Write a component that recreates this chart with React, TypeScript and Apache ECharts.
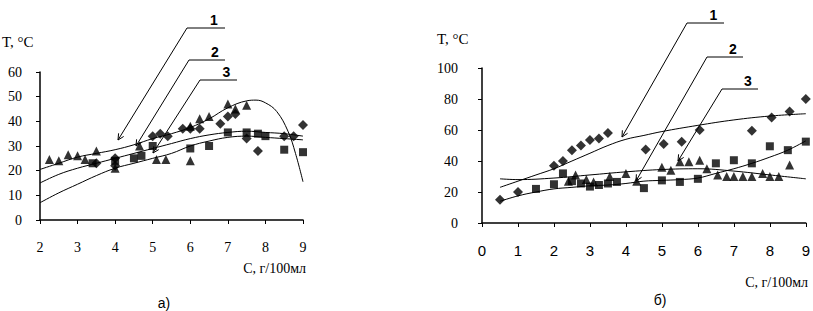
import React, { useEffect, useRef } from "react";
import * as echarts from "echarts";

// ---------- chart а) ----------
const leftXTicks = { min: 2, max: 9, interval: 1 };
const leftYTicks = { min: 0, max: 60, interval: 10 };

const leftDiamonds: number[][] = [
  [3.5, 23], [4.0, 22], [4.0, 25], [5.0, 34], [5.2, 35], [5.4, 34], [5.8, 37], [6.0, 37],
  [6.25, 37], [6.8, 39], [7.0, 42], [7.2, 43], [7.5, 33], [7.8, 28], [8.5, 34], [8.75, 34], [9.0, 38.5],
];
const leftSquares: number[][] = [
  [3.4, 23], [4.0, 24], [4.5, 25], [4.7, 26], [5.0, 30], [6.0, 29], [6.5, 30], [7.0, 35.5],
  [7.5, 35.5], [7.8, 35], [8.0, 34], [8.5, 28.5], [9.0, 27.5],
];
const leftTriangles: number[][] = [
  [2.25, 24.5], [2.5, 24], [2.75, 26.5], [3.0, 26], [3.2, 24.5], [3.5, 28], [4.0, 21], [4.65, 30],
  [5.1, 24.5], [5.35, 24.5], [6.0, 24], [6.0, 38], [6.25, 41], [6.5, 42], [7.0, 47], [7.2, 45], [7.5, 46.5],
];
const leftCurve1: number[][] = [
  [2, 20.5], [2.5, 23], [3, 25.5], [3.5, 27], [4, 28.5], [4.5, 30.5], [5, 33], [5.5, 35], [6, 37.5],
  [6.5, 41], [7, 45.5], [7.5, 48.3], [7.75, 48.6], [8, 47.5], [8.3, 44], [8.6, 36], [8.8, 27], [9, 15.5],
];
const leftCurve2: number[][] = [
  [2, 15], [2.5, 18.5], [3, 21], [3.5, 23], [4, 25], [4.5, 27], [5, 29], [5.5, 31], [6, 33],
  [6.5, 34.5], [7, 35.5], [7.5, 36], [8, 35.5], [8.5, 35], [9, 34],
];
const leftCurve3: number[][] = [
  [2, 7], [2.5, 11], [3, 14.5], [3.5, 18], [4, 21], [4.5, 23], [5, 25], [5.5, 27], [6, 30],
  [6.5, 32], [7, 33.5], [7.5, 34], [8, 33.5], [8.5, 33], [9, 32.5],
];

// ---------- chart б) ----------
const rightXTicks = { min: 0, max: 9, interval: 1 };
const rightYTicks = { min: 0, max: 100, interval: 20 };

const rightDiamonds: number[][] = [
  [0.5, 15], [1, 20], [2, 37], [2.25, 40], [2.5, 47], [2.75, 50], [3, 53.5], [3.25, 54.5], [3.5, 58],
  [4.55, 47.5], [5.05, 51], [5.55, 52.5], [6.05, 60], [7.5, 59.5], [8.05, 68], [8.55, 72], [9.0, 80],
];
const rightSquares: number[][] = [
  [1.5, 22], [2, 25], [2.25, 32], [2.5, 27], [2.75, 25.5], [3, 23.5], [3.25, 24.5], [3.5, 25.5],
  [3.75, 26.5], [4.5, 22.5], [5, 27.5], [5.5, 26.5], [6, 28.5], [6.5, 38.5], [7, 40.5], [7.5, 38.5],
  [8, 49.5], [8.5, 47], [9, 52.5],
];
const rightTriangles: number[][] = [
  [2.4, 27], [2.6, 31], [2.9, 28], [3.1, 26.5], [3.55, 30], [4.0, 32], [4.3, 27], [5.0, 36], [5.25, 34],
  [5.5, 39.5], [5.75, 39.5], [6.05, 40.5], [6.25, 35], [6.55, 31], [6.8, 30], [7.0, 30], [7.25, 30],
  [7.5, 30], [7.8, 32], [8.0, 30], [8.25, 30], [8.55, 37.5],
];
const rightCurve1: number[][] = [
  [0.5, 23], [1, 27], [1.5, 31], [2, 35], [2.5, 40], [3, 45], [3.5, 50], [4, 54], [4.5, 56.5],
  [5, 59], [6, 63], [7, 66.5], [8, 69], [9, 70.5],
];
const rightCurve2: number[][] = [
  [0.5, 14], [1, 17.5], [1.5, 20], [2, 22], [2.5, 23], [3, 24], [3.5, 24.5], [4, 25.5], [4.5, 27],
  [5, 27.5], [5.5, 28], [6, 29], [6.5, 32], [7, 35], [7.5, 38.5], [8, 42.5], [8.5, 47], [9, 53],
];
const rightCurve3: number[][] = [
  [0.5, 28.5], [1, 28], [2, 29], [3, 31], [4, 33], [5, 34.5], [6, 35], [7, 33.5], [8, 31], [9, 28.5],
];

// texts
const yTitle = "T, °C";
const xTitle = "С, г/100мл";
const captions = ["а)", "б)"];
const curveLabels = ["1", "2", "3"];

const SERIF = "'Liberation Serif', 'DejaVu Serif', serif";
const SANS = "'Liberation Sans', Arial, sans-serif";

function leader(label: string, hx1: number, hx2: number, hy: number, tx: number, ty: number) {
  const dx = tx - hx1;
  const dy = ty - hy;
  const len = Math.sqrt(dx * dx + dy * dy);
  const ux = dx / len;
  const uy = dy / len;
  const a = 6;
  const w = 3;
  const bx = tx - ux * a;
  const by = ty - uy * a;
  return [
    {
      type: "polyline",
      shape: { points: [[hx2, hy], [hx1, hy], [tx, ty]] },
      style: { stroke: "#000", lineWidth: 1, fill: null },
      z: 100,
    },
    {
      type: "polyline",
      shape: { points: [[bx - uy * w, by + ux * w], [tx, ty], [bx + uy * w, by - ux * w]] },
      style: { stroke: "#000", lineWidth: 1, fill: null },
      z: 100,
    },
    {
      type: "text",
      x: (hx1 + hx2) / 2 + 8,
      y: hy - 1,
      style: {
        text: label,
        font: `bold 14px ${SANS}`,
        fill: "#000",
        align: "center",
        verticalAlign: "bottom",
      },
      z: 100,
    },
  ];
}

function axisCommon(fontFamily: string, fontSize: number, margin: number, bold = false) {
  return {
    type: "value" as const,
    axisLine: { show: true, lineStyle: { color: "#000", width: 1.5 } },
    axisTick: { show: true, length: 4, lineStyle: { color: "#000" } },
    axisLabel: { color: "#000", fontFamily, fontSize, margin, fontWeight: bold ? "bold" : "normal" },
    splitLine: { show: false },
  };
}

function scatter(data: number[][], symbol: string, size: number, idx: number) {
  return {
    type: "scatter",
    xAxisIndex: idx,
    yAxisIndex: idx,
    data,
    symbol,
    symbolSize: size,
    clip: false,
    itemStyle: { color: "#000" },
    z: 3,
  };
}

function curve(data: number[][], idx: number) {
  return {
    type: "line",
    xAxisIndex: idx,
    yAxisIndex: idx,
    data,
    smooth: 0.4,
    showSymbol: false,
    symbol: "none",
    lineStyle: { color: "#000", width: 1 },
    z: 2,
  };
}

export default function App() {
  const ref = useRef<HTMLDivElement>(null);
  useEffect(() => {
    document.body.style.margin = "0";
    const chart = echarts.init(ref.current!, null, { renderer: "svg" });
    const option: any = {
      animation: false,
      backgroundColor: "#fff",
      grid: [
        { left: 40, top: 72, width: 263, height: 148 },
        { left: 482, top: 68, width: 325, height: 155 },
      ],
      xAxis: [
        { ...axisCommon(SERIF, 14, 20), gridIndex: 0, ...leftXTicks },
        { ...axisCommon(SANS, 15, 20), gridIndex: 1, ...rightXTicks },
      ],
      yAxis: [
        { ...axisCommon(SERIF, 14, 18), gridIndex: 0, ...leftYTicks },
        { ...axisCommon(SERIF, 14, 24), gridIndex: 1, ...rightYTicks },
      ],
      series: [
        curve(leftCurve1, 0),
        curve(leftCurve2, 0),
        curve(leftCurve3, 0),
        scatter(leftDiamonds, "diamond", 10, 0),
        scatter(leftSquares, "rect", 8, 0),
        scatter(leftTriangles, "triangle", 9, 0),
        curve(rightCurve1, 1),
        curve(rightCurve2, 1),
        curve(rightCurve3, 1),
        scatter(rightDiamonds, "diamond", 10, 1),
        scatter(rightSquares, "rect", 8, 1),
        scatter(rightTriangles, "triangle", 9, 1),
      ],
      graphic: [
        {
          type: "text", x: 2, y: 42,
          style: { text: yTitle, font: `15px ${SERIF}`, fill: "#000", align: "left", verticalAlign: "middle" },
        },
        {
          type: "text", x: 437, y: 39,
          style: { text: yTitle, font: `15px ${SERIF}`, fill: "#000", align: "left", verticalAlign: "middle" },
        },
        {
          type: "text", x: 306, y: 268,
          style: { text: xTitle, font: `14px ${SERIF}`, fill: "#000", align: "right", verticalAlign: "middle" },
        },
        {
          type: "text", x: 808, y: 282,
          style: { text: xTitle, font: `14px ${SERIF}`, fill: "#000", align: "right", verticalAlign: "middle" },
        },
        {
          type: "text", x: 164, y: 303,
          style: { text: captions[0], font: `14px ${SANS}`, fill: "#000", align: "center", verticalAlign: "middle" },
        },
        {
          type: "text", x: 660, y: 300,
          style: { text: captions[1], font: `14px ${SANS}`, fill: "#000", align: "center", verticalAlign: "middle" },
        },
        ...leader(curveLabels[0], 187, 225, 28, 118, 140),
        ...leader(curveLabels[1], 189, 225, 60, 136, 146),
        ...leader(curveLabels[2], 200, 237, 80, 153, 153),
        ...leader(curveLabels[0], 687, 724, 23, 622, 137),
        ...leader(curveLabels[1], 707, 743, 57, 636, 181),
        ...leader(curveLabels[2], 722, 758, 89, 678, 161),
      ],
    };
    chart.setOption(option);
    return () => chart.dispose();
  }, []);
  return <div ref={ref} style={{ width: 813, height: 311, background: "#fff" }} />;
}
